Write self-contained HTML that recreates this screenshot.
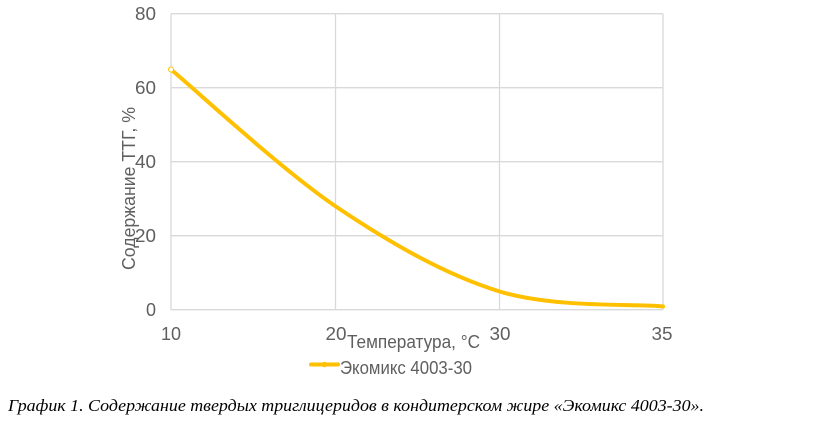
<!DOCTYPE html>
<html><head><meta charset="utf-8"><style>
html,body{margin:0;padding:0;background:#fff;}
svg{display:block;}
</style></head><body>
<svg width="813" height="423" viewBox="0 0 813 423" xmlns="http://www.w3.org/2000/svg">
<rect width="813" height="423" fill="#fff"/>
<g stroke="#d9d9d9" stroke-width="1.3" fill="none">
<line x1="171" y1="13.7" x2="663" y2="13.7"/>
<line x1="171" y1="87.7" x2="663" y2="87.7"/>
<line x1="171" y1="161.7" x2="663" y2="161.7"/>
<line x1="171" y1="235.7" x2="663" y2="235.7"/>
<line x1="171" y1="309.7" x2="663" y2="309.7"/>
<line x1="171" y1="13.7" x2="171" y2="309.7"/>
<line x1="335.5" y1="13.7" x2="335.5" y2="309.7"/>
<line x1="499.5" y1="13.7" x2="499.5" y2="309.7"/>
<line x1="663" y1="13.7" x2="663" y2="309.7"/>
</g>
<g font-family="Liberation Sans, sans-serif" font-size="18" fill="#5f5f5f">
<text x="156" y="20" text-anchor="end" textLength="21" lengthAdjust="spacingAndGlyphs">80</text>
<text x="156" y="94" text-anchor="end" textLength="21" lengthAdjust="spacingAndGlyphs">60</text>
<text x="156" y="168" text-anchor="end" textLength="21" lengthAdjust="spacingAndGlyphs">40</text>
<text x="156" y="242" text-anchor="end" textLength="21" lengthAdjust="spacingAndGlyphs">20</text>
<text x="156" y="316" text-anchor="end">0</text>
<text x="171" y="340" text-anchor="middle">10</text>
<text x="336" y="340" text-anchor="middle" textLength="21" lengthAdjust="spacingAndGlyphs">20</text>
<text x="500" y="340" text-anchor="middle" textLength="21" lengthAdjust="spacingAndGlyphs">30</text>
<text x="662" y="340" text-anchor="middle" textLength="21" lengthAdjust="spacingAndGlyphs">35</text>
<text x="347" y="348" textLength="133" lengthAdjust="spacingAndGlyphs">Температура, °С</text>
<text x="340" y="374" textLength="132" lengthAdjust="spacingAndGlyphs">Экомикс 4003-30</text>
<text transform="translate(135,270) rotate(-90)" x="0" y="0" font-size="18" textLength="163" lengthAdjust="spacingAndGlyphs">Содержание ТТГ, %</text>
</g>
<path d="M171,69.5 C198.5,92.3 281.2,169.4 336,206.6 C390.8,243.4 445.5,274.9 500,291.6 C554.5,308.1 635.8,303.6 663,306.5" fill="none" stroke="#FFC000" stroke-width="4" stroke-linecap="round"/>
<circle cx="171" cy="69.5" r="2.5" fill="#fff" stroke="#FFC000" stroke-width="1"/>
<line x1="311" y1="364.5" x2="338" y2="364.5" stroke="#FFC000" stroke-width="4" stroke-linecap="round"/>
<circle cx="324.5" cy="364.5" r="2.8" fill="#FFC000"/>
<text x="8" y="411" font-family="Liberation Serif, serif" font-style="italic" font-size="17" fill="#000" textLength="696" lengthAdjust="spacingAndGlyphs">График 1. Содержание твердых триглицеридов в кондитерском жире «Экомикс 4003-30».</text>
</svg>
</body></html>
